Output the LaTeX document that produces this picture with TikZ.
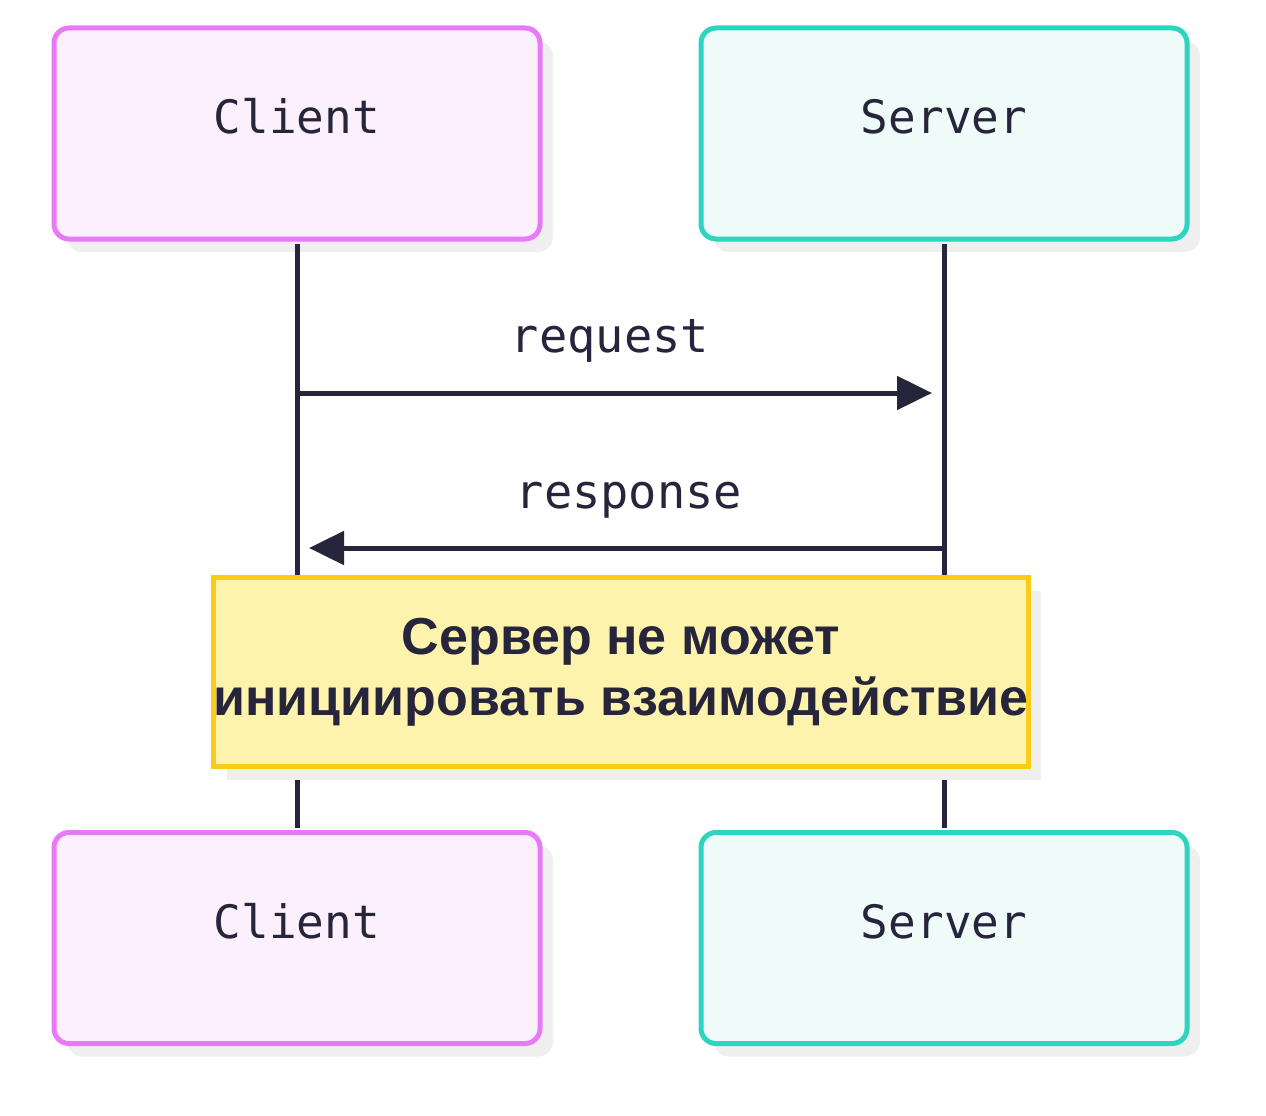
\documentclass[tikz,border=0pt]{standalone}
\usepackage{fontspec}
\setmainfont{Liberation Sans}
\newfontfamily\labelfont{DejaVu Sans Mono}
\usetikzlibrary{arrows.meta,shadows}

\definecolor{inkdark}{RGB}{38,37,60}
\definecolor{clientline}{RGB}{232,121,249}
\definecolor{clientfill}{RGB}{253,240,253}
\definecolor{serverline}{RGB}{45,212,191}
\definecolor{serverfill}{RGB}{238,251,249}
\definecolor{noteline}{RGB}{250,204,21}
\definecolor{notefill}{RGB}{254,243,172}
\definecolor{shadowgray}{RGB}{239,239,239}

\begin{document}
\begin{tikzpicture}[x=1pt,y=-1pt,
    actor/.style={rounded corners=15pt, line width=5pt, minimum width=486pt,
      minimum height=211pt, inner sep=0pt, text=inkdark,
      font=\labelfont\fontsize{46}{55}\selectfont,
      text height=0.75em, text depth=0.75em,
      drop shadow={shadow xshift=13pt, shadow yshift=-13pt, fill=shadowgray, opacity=1}},
    clientbox/.style={actor, draw=clientline, fill=clientfill},
    serverbox/.style={actor, draw=serverline, fill=serverfill},
    notebox/.style={draw=noteline, fill=notefill, line width=5pt, minimum width=811pt,
      minimum height=189pt, inner sep=0pt, align=center, text=inkdark,
      font=\bfseries\fontsize{52}{61}\selectfont,
      drop shadow={shadow xshift=13pt, shadow yshift=-13pt, fill=shadowgray, opacity=1}},
    msglabel/.style={anchor=base, text=inkdark, inner sep=0pt,
      font=\labelfont\fontsize{47}{55}\selectfont},
    lifeline/.style={draw=inkdark, line width=5pt, shorten <=2.5pt, shorten >=2.5pt},
    message/.style={draw=inkdark, line width=5pt, -{Triangle[length=35pt,width=33pt]}}]
  \useasboundingbox (0,0) rectangle (1266,1116);

  % participants
  \node[clientbox] (clientTop) at (297,133.5) {Client};
  \node[serverbox] (serverTop) at (944,133.5) {Server};
  \node[clientbox] (clientBottom) at (297,938) {Client};
  \node[serverbox] (serverBottom) at (944,938) {Server};

  \draw[lifeline] (clientTop.south) -- (clientBottom.north);
  \draw[lifeline] (serverTop.south) -- (serverBottom.north);

  % messages
  \coordinate (reqEnd) at (932,393);
  \coordinate (respEnd) at (309,548);
  \draw[message] (clientTop.south |- reqEnd) -- (reqEnd);
  \node[msglabel] (reqLabel) at (610,352) {request};
  \draw[message] (serverTop.south |- respEnd) -- (respEnd);
  \node[msglabel] (respLabel) at (629,508) {response};

  \node[notebox] (note) at (621,672) {Сервер не может\\инициировать взаимодействие};
\end{tikzpicture}
\end{document}
